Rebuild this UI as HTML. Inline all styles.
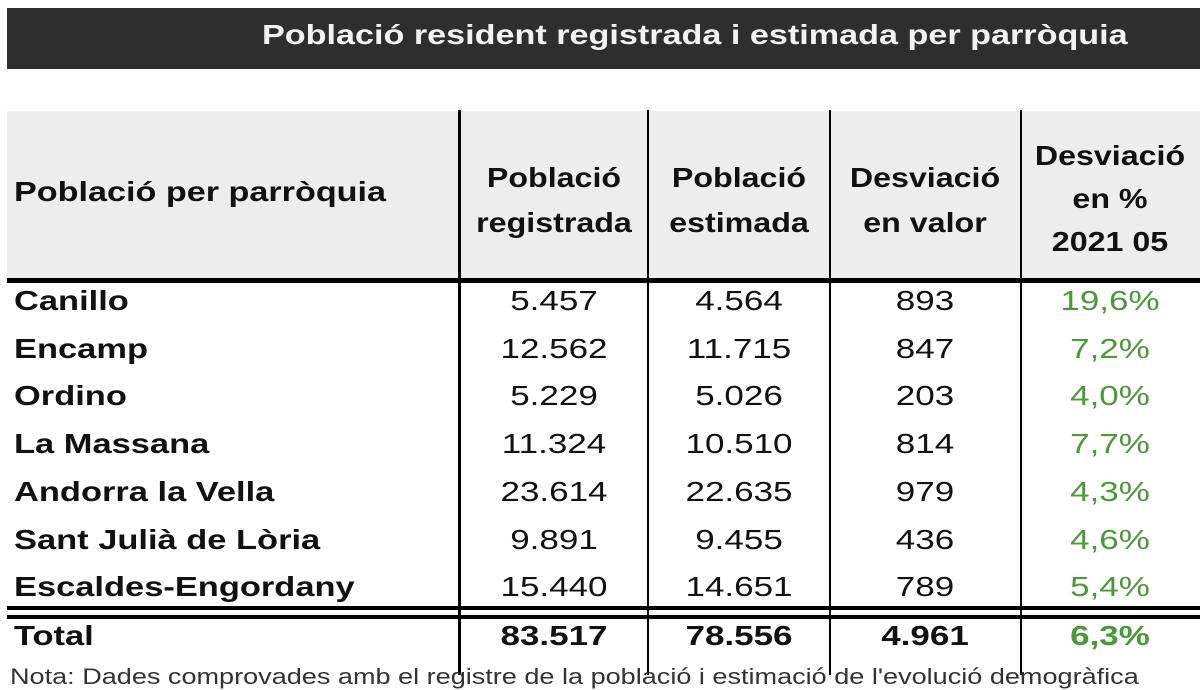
<!DOCTYPE html>
<html><head><meta charset="utf-8"><style>
body{margin:0;width:1200px;height:675px;overflow:hidden;background:#fff;font-family:"Liberation Sans",Arial,sans-serif;position:relative}
.a{position:absolute}
.t{position:absolute;white-space:nowrap;color:#111;transform-origin:left top;transform:scaleX(1.23)}
.b{font-weight:bold}
.c{transform-origin:center top;transform:translateX(-50%) scaleX(1.25);text-align:center}
.g{color:#4a9a3a}
</style></head><body>
<div class="a" style="left:7px;top:8px;width:1193px;height:61px;background:#2e2e2e"></div>
<div class="t b" style="left:262px;top:19px;font-size:28px;color:#f2f2f2;transform:scaleX(1.22)">Població resident registrada i estimada per parròquia</div>
<div class="a" style="left:7px;top:111px;width:1193px;height:168px;background:#ededed"></div>
<div class="a" style="left:7px;top:278px;width:1193px;height:5px;background:#000"></div>
<div class="a" style="left:7px;top:606px;width:1193px;height:4px;background:#000"></div>
<div class="a" style="left:7px;top:615px;width:1193px;height:4px;background:#000"></div>
<div class="a" style="left:458px;top:110px;width:3px;height:565px;background:#000"></div>
<div class="a" style="left:647px;top:110px;width:2px;height:565px;background:#000"></div>
<div class="a" style="left:829px;top:110px;width:2px;height:565px;background:#000"></div>
<div class="a" style="left:1020px;top:110px;width:2px;height:565px;background:#000"></div>

<div class="t b" style="left:14px;top:176px;font-size:28px;transform:scaleX(1.22)">Població per parròquia</div>
<div class="t b c" style="left:554px;top:155px;font-size:28px;line-height:45px;transform:translateX(-50%) scaleX(1.15)">Població<br>registrada</div>
<div class="t b c" style="left:739px;top:155px;font-size:28px;line-height:45px;transform:translateX(-50%) scaleX(1.15)">Població<br>estimada</div>
<div class="t b c" style="left:925px;top:155px;font-size:28px;line-height:45px;transform:translateX(-50%) scaleX(1.15)">Desviació<br>en valor</div>
<div class="t b c" style="left:1110px;top:134px;font-size:28px;line-height:43px;transform:translateX(-50%) scaleX(1.15)">Desviació<br>en %<br>2021 05</div>

<div id="rows"></div>
<div class="t" style="left:10px;top:664px;font-size:22px;color:#333">Nota: Dades comprovades amb el registre de la població i estimació de l'evolució demogràfica</div>
<script>
const parishes=["Canillo","Encamp","Ordino","La Massana","Andorra la Vella","Sant Julià de Lòria","Escaldes-Engordany"];
const registered=["5.457","12.562","5.229","11.324","23.614","9.891","15.440"];
const estimated=["4.564","11.715","5.026","10.510","22.635","9.455","14.651"];
const devValue=["893","847","203","814","979","436","789"];
const devPct=["19,6%","7,2%","4,0%","7,7%","4,3%","4,6%","5,4%"];
const totals=["83.517","78.556","4.961","6,3%"];
const root=document.getElementById('rows');
function cell(txt,x,y,cls,name){
  const d=document.createElement('div');
  d.className='t '+cls;
  d.style.left=x+'px';d.style.top=y+'px';d.style.fontSize='28px';
  d.textContent=txt;
  
  
  root.appendChild(d);
}
const cx=[554,739,925,1110];
parishes.forEach((p,i)=>{
  const y=285+i*47.7;
  cell(p,14,y,'b','row-label');
  cell(registered[i],cx[0],y,'c','registered-value');
  cell(estimated[i],cx[1],y,'c','estimated-value');
  cell(devValue[i],cx[2],y,'c','deviation-value');
  cell(devPct[i],cx[3],y,'c g','deviation-pct');
});
cell('Total',14,620,'b','total-label');
totals.forEach((v,j)=>{
  cell(v,cx[j],620,'b c'+(j==3?' g':''),'total-value');
});
</script>
</body></html>
